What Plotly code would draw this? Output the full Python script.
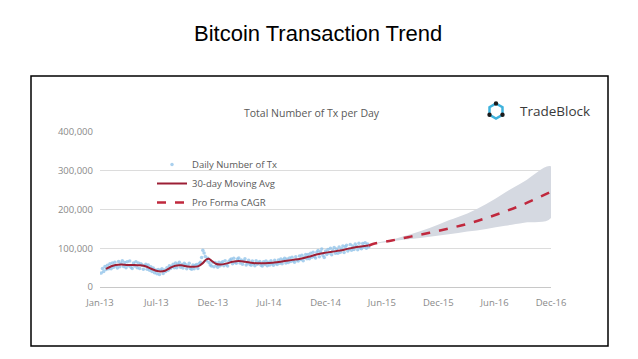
import plotly.graph_objects as go
import pandas as pd

W, H = 638, 359
OFF = 8                      # page body margin of the html
FW, FH = W - 2 * OFF, H - 2 * OFF


def X(px):
    return (px - OFF) / FW


def Y(py):
    return 1 - (py - OFF) / FH


# ---------------- data ----------------
tick_dates = ["2013-01-01", "2013-07-02", "2013-12-31", "2014-07-01", "2014-12-30",
              "2015-06-30", "2015-12-29", "2016-06-28", "2016-12-27"]
tick_labels = ["Jan-13", "Jul-13", "Dec-13", "Jul-14", "Dec-14",
               "Jun-15", "Dec-15", "Jun-16", "Dec-16"]
y_ticks = [0, 100000, 200000, 300000, 400000]
y_tick_labels = ["0", "100,000", "200,000", "300,000", "400,000"]

# daily number of tx (thousands), sampled every 4 days from 2013-01-05
daily_start = "2013-01-05"
daily_tx_k = [
    36, 48, 40, 53, 45, 56, 47,
    60, 47, 62, 51, 64, 55, 49,
    66, 52, 61, 68, 53, 63, 50, 65,
    55, 67, 51, 48, 62, 54, 65,
    50, 62, 48, 60, 57, 46, 55, 59,
    46, 57, 43, 52, 40, 49, 37, 44,
    34, 45, 32, 43, 47, 35, 44,
    40, 50, 43, 55, 48, 53, 59, 50,
    62, 50, 59, 64, 51, 58, 49, 61,
    58, 47, 55, 61, 48, 46, 57,
    47, 56, 58, 48, 60, 64, 76, 95,
    88, 79, 68, 74, 63, 57, 54, 64,
    52, 63, 56, 51, 64, 55, 62,
    65, 55, 68, 58, 54, 66, 70,
    72, 60, 74, 64, 61, 72, 75, 62,
    70, 59, 67, 73, 57, 62, 69, 58,
    56, 67, 60, 55, 68, 59, 63,
    66, 56, 54, 65, 58, 67, 55, 64,
    57, 68, 60, 56, 69, 61, 58, 70,
    61, 72, 60, 70, 74, 62, 72,
    63, 75, 66, 77, 68, 64, 78, 70,
    67, 80, 71, 82, 68, 76, 84, 73,
    84, 73, 87, 77, 90, 79, 75,
    90, 94, 78, 91, 98, 81, 76, 93,
    84, 97, 88, 100, 83, 94, 102, 87,
    98, 87, 103, 90, 99, 106, 89,
    104, 108, 93, 98, 110, 95, 106,
    97, 111, 105, 96, 113, 101, 99, 112,
    103, 114, 100, 111, 104,
]

ma_dates = ["2013-01-20", "2013-02-05", "2013-02-20", "2013-03-10", "2013-03-30",
            "2013-04-20", "2013-05-10", "2013-05-30", "2013-06-15", "2013-07-01",
            "2013-07-15", "2013-07-30", "2013-08-15", "2013-09-01", "2013-09-20",
            "2013-10-10", "2013-10-30", "2013-11-15", "2013-11-28", "2013-12-10",
            "2013-12-18", "2013-12-28", "2014-01-10", "2014-01-25", "2014-02-15",
            "2014-03-05", "2014-03-25", "2014-04-15", "2014-05-10", "2014-06-05",
            "2014-07-01", "2014-07-25", "2014-08-20", "2014-09-15", "2014-10-10",
            "2014-11-05", "2014-12-01", "2014-12-25", "2015-01-20", "2015-02-15",
            "2015-03-15", "2015-04-10", "2015-05-05", "2015-05-18"]
ma_k = [47, 53, 57, 58, 57,
        57, 56, 53, 47, 42,
        40, 42, 49, 55, 56,
        53, 52, 54, 61, 71,
        73, 67, 60, 58, 61,
        65, 67, 65, 62, 61,
        62, 64, 67, 70, 73,
        78, 84, 88, 91, 94,
        99, 103, 106, 107]

proj_dates = ["2015-05-18", "2015-06-01", "2015-08-01", "2015-10-01", "2015-12-01",
              "2016-02-01", "2016-04-01", "2016-06-01", "2016-08-01", "2016-10-01",
              "2016-12-27"]
proj_k = [107, 111, 120, 130, 140, 151, 163, 178, 195, 214, 246]
proj_low_k = [107, 110, 118, 124, 130, 136, 143, 150, 158, 166, 178]
proj_high_k = [107, 112, 122, 136, 152, 172, 190, 214, 244, 272, 311]

# ---------------- figure ----------------
daily_dates = pd.date_range(daily_start, periods=len(daily_tx_k), freq="4D")

fig = go.Figure()

# confidence band
fig.add_trace(go.Scatter(
    x=proj_dates + proj_dates[::-1],
    y=[v * 1000 for v in proj_high_k] + [v * 1000 for v in proj_low_k[::-1]],
    fill="toself", fillcolor="#d5d9e1", line=dict(width=0),
    mode="lines", line_shape="spline", showlegend=False, hoverinfo="skip"))

fig.add_trace(go.Scatter(
    x=daily_dates, y=[v * 1000 for v in daily_tx_k],
    mode="markers", name="Daily Number of Tx",
    marker=dict(size=3.5, color="rgba(140,192,232,0.75)")))

fig.add_trace(go.Scatter(
    x=ma_dates, y=[v * 1000 for v in ma_k],
    mode="lines", name="30-day Moving Avg", line_shape="spline",
    line=dict(color="#9c1f35", width=2)))

fig.add_trace(go.Scatter(
    x=proj_dates, y=[v * 1000 for v in proj_k],
    mode="lines", name="Pro Forma CAGR", line_shape="spline",
    line=dict(color="#c0283d", width=2.5, dash="dash")))

gray = "#8a8a8a"
fig.update_layout(
    width=FW, height=FH,
    margin=dict(l=0, r=0, t=0, b=0, pad=0, autoexpand=False),
    paper_bgcolor="white", plot_bgcolor="white",
    font=dict(family="Open Sans", size=10, color=gray),
    xaxis=dict(
        type="date", domain=[X(100), X(551)],
        range=[tick_dates[0], tick_dates[-1]],
        tickvals=tick_dates, ticktext=tick_labels,
        showgrid=False, zeroline=False, automargin=False,
        showline=False, ticks="", ticklabelstandoff=8,
        tickfont=dict(size=9.5, color=gray),
    ),
    yaxis=dict(
        domain=[Y(287), Y(132)], range=[0, 400000],
        tickvals=y_ticks, ticktext=y_tick_labels, automargin=False,
        showgrid=True, gridcolor="#dcdcdc", gridwidth=1,
        zeroline=True, zerolinecolor="#c8c8c8", zerolinewidth=1,
        showline=False, ticks="", ticklabelstandoff=6,
        tickfont=dict(size=9.5, color=gray),
    ),
    legend=dict(
        x=X(152), y=Y(150), xanchor="left", yanchor="top",
        bgcolor="rgba(0,0,0,0)", font=dict(size=9.5, color="#595959"),
        tracegroupgap=0, itemwidth=30,
    ),
    showlegend=True,
)

# outer box
fig.add_shape(type="rect", xref="paper", yref="paper",
              x0=X(31), x1=X(608), y0=Y(346), y1=Y(76),
              line=dict(color="black", width=1.5), fillcolor="rgba(0,0,0,0)")

# slide title
fig.add_annotation(text="Bitcoin Transaction Trend", xref="paper", yref="paper",
                   x=X(318), y=Y(33), xanchor="center", yanchor="middle",
                   showarrow=False,
                   font=dict(family="Liberation Sans", size=22, color="black"))

# chart title
fig.add_annotation(text="Total Number of Tx per Day", xref="paper", yref="paper",
                   x=X(312), y=Y(113), xanchor="center", yanchor="middle",
                   showarrow=False,
                   font=dict(family="Open Sans", size=10.5, color="#595959"))

# TradeBlock logo
cx, cy, r = 496, 111, 7.5
hx = [cx, cx + 0.866 * r, cx + 0.866 * r, cx, cx - 0.866 * r, cx - 0.866 * r]
hy = [cy - r, cy - r / 2, cy + r / 2, cy + r, cy + r / 2, cy - r / 2]
path = "M " + " L ".join(f"{X(a):.5f},{Y(b):.5f}" for a, b in zip(hx, hy)) + " Z"
fig.add_shape(type="path", xref="paper", yref="paper", path=path,
              line=dict(color="#3fb2dc", width=2.5))
for i in (0, 2, 4):
    d = 2.2
    fig.add_shape(type="circle", xref="paper", yref="paper",
                  x0=X(hx[i] - d), x1=X(hx[i] + d), y0=Y(hy[i] + d), y1=Y(hy[i] - d),
                  fillcolor="#1a1a1a", line=dict(width=0))
fig.add_annotation(text="TradeBlock", xref="paper", yref="paper",
                   x=X(518), y=Y(111), xanchor="left", yanchor="middle",
                   showarrow=False,
                   font=dict(family="Open Sans", size=13.5, color="#3a3a3a"))

fig.write_html("out.html")
